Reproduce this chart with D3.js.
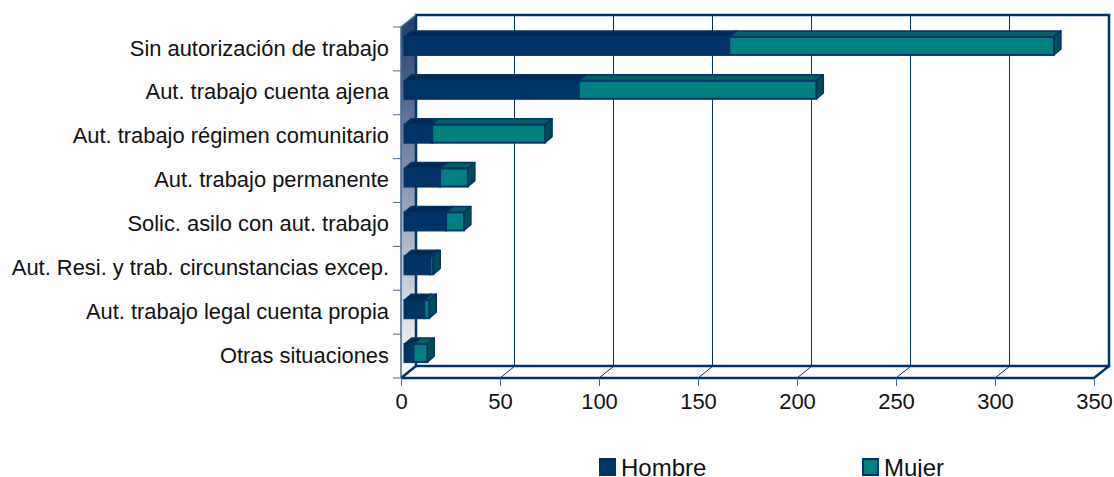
<!DOCTYPE html>
<html><head><meta charset="utf-8">
<script src="https://cdn.jsdelivr.net/npm/d3@7/dist/d3.min.js"></script>
<style>html,body{margin:0;padding:0;background:#fff}svg{display:block}text{font-family:"Liberation Sans",Arial,sans-serif;fill:#111}</style>
</head><body><svg id="c" width="1114" height="477"></svg>
<script>
const categories=["Sin autorización de trabajo","Aut. trabajo cuenta ajena","Aut. trabajo régimen comunitario","Aut. trabajo permanente","Solic. asilo con aut. trabajo","Aut. Resi. y trab. circunstancias excep.","Aut. trabajo legal cuenta propia","Otras situaciones"];
const hombre=[164,88,14,18,21,13,10,4.5];
const mujer=[164,120,57,14,9,1.5,2.5,7];
const seriesNames=["Hombre","Mujer"];
const xTicks=[0,50,100,150,200,250,300,350];

const NAVY="#003366",TEAL="#008080";
const svg=d3.select("#c");
const x=d3.scaleLinear().domain([0,350]).range([401,1094]);
const y=d3.scaleBand().domain(categories).range([27,378]);
const wallDx=15,wallDy=12,barOff=3.5,barDx=7,barDy=6;
const yTop=y.range()[0],yBot=y.range()[1];

const defs=svg.append("defs");
const g=defs.append("linearGradient").attr("id","wall").attr("x1",0).attr("y1",0).attr("x2",0).attr("y2",1);
g.append("stop").attr("offset",0).attr("stop-color","#1f3d70");
g.append("stop").attr("offset",1).attr("stop-color","#ffffff");

const poly=(pts)=>pts.map(p=>p.join(",")).join(" ");
// left wall
svg.append("polygon").attr("points",poly([[x(0),yTop],[x(0)+wallDx,yTop-wallDy],[x(0)+wallDx,yBot-wallDy],[x(0),yBot]])).attr("fill","url(#wall)");
// back wall grid
svg.append("g").selectAll("line").data(xTicks.slice(1,-1)).join("line")
 .attr("x1",d=>Math.round(x(d)+wallDx)-.5).attr("x2",d=>Math.round(x(d)+wallDx)-.5).attr("y1",yTop-wallDy).attr("y2",yBot-wallDy)
 .attr("stroke",NAVY).attr("stroke-width",1);
// floor slants
svg.append("g").selectAll("line").data(xTicks.slice(1,-1)).join("line")
 .attr("x1",d=>x(d)).attr("x2",d=>x(d)+wallDx).attr("y1",yBot).attr("y2",yBot-wallDy)
 .attr("stroke",NAVY).attr("stroke-width",1);
// back wall frame
const xe=x(350);
svg.append("path").attr("fill","none").attr("stroke",NAVY).attr("stroke-width",2.5)
 .attr("d",`M${x(0)+wallDx},${yBot-wallDy}V${yTop-wallDy}H${xe+wallDx}V${yBot-wallDy}H${x(0)+wallDx}`);
// floor edges
svg.append("path").attr("fill","none").attr("stroke",NAVY).attr("stroke-width",2.5)
 .attr("d",`M${x(0)},${yBot}L${x(0)+wallDx},${yBot-wallDy}M${xe},${yBot}L${xe+wallDx},${yBot-wallDy}M${x(0)},${yBot}H${xe}`);
// left edge
svg.append("path").attr("fill","none").attr("stroke","#3f6a98").attr("stroke-width",1.5)
 .attr("d",`M${x(0)},${yBot}V${yTop}L${x(0)+wallDx},${yTop-wallDy}`);

// category axis
const yTicks=d3.range(categories.length+1).map(i=>yTop+i*y.step());
svg.append("g").selectAll("line").data(yTicks).join("line")
 .attr("x1",x(0)-8).attr("x2",x(0)).attr("y1",d=>d).attr("y2",d=>d).attr("stroke","#3f6a98").attr("stroke-width",1);
svg.append("g").selectAll("text").data(categories).join("text")
 .attr("x",389).attr("y",d=>y(d)+y.step()/2-1).attr("dy","0.35em").attr("text-anchor","end").attr("font-size",21.9).text(d=>d);

// x axis
const ax=svg.append("g").attr("transform",`translate(0,${yBot})`).call(d3.axisBottom(x).tickValues(xTicks).tickSize(8).tickPadding(7).tickFormat(d3.format("d")));
ax.select(".domain").remove();
ax.selectAll("line").attr("stroke","#3f6a98");
ax.selectAll("text").attr("font-size",22).attr("font-family","'Liberation Sans',Arial,sans-serif").attr("fill","#111");

// bars
const bx=v=>x(v)+barOff;
const bh=18,by=d=>y(d)+y.step()/2-12;
function box(gr,cat,a,b,fill,topFill,sideFill){
  const X0=bx(a),X1=bx(b),Y0=by(cat),Y1=Y0+bh;
  gr.append("polygon").attr("points",poly([[X0,Y0],[X0+barDx,Y0-barDy],[X1+barDx,Y0-barDy],[X1,Y0]])).attr("fill",topFill).attr("stroke",NAVY).attr("stroke-width",1.5).attr("stroke-linejoin","round");
  gr.append("polygon").attr("points",poly([[X1,Y0],[X1+barDx,Y0-barDy],[X1+barDx,Y1-barDy],[X1,Y1]])).attr("fill",sideFill).attr("stroke",NAVY).attr("stroke-width",1.5).attr("stroke-linejoin","round");
  gr.append("rect").attr("x",X0).attr("y",Y0).attr("width",X1-X0).attr("height",bh).attr("fill",fill).attr("stroke",NAVY).attr("stroke-width",2);
}
const bars=svg.append("g");
categories.forEach((c,i)=>{
  const r=bars.append("g");
  box(r,c,0,hombre[i],NAVY,"#002a55","#002a55");
  box(r,c,hombre[i],hombre[i]+mujer[i],TEAL,"#006066","#004d55");
});

// legend
const legX=d3.scaleOrdinal().domain(seriesNames).range([600,863]);
const legC=d3.scaleOrdinal().domain(seriesNames).range([NAVY,TEAL]);
const leg=svg.append("g").selectAll("g").data(seriesNames).join("g");
leg.append("rect").attr("x",d=>legX(d)).attr("y",459).attr("width",15).attr("height",16).attr("fill",d=>legC(d)).attr("stroke",NAVY).attr("stroke-width",2);
leg.append("text").attr("x",d=>legX(d)+21).attr("y",475.5).attr("font-size",24).text(d=>d);
</script></body></html>
